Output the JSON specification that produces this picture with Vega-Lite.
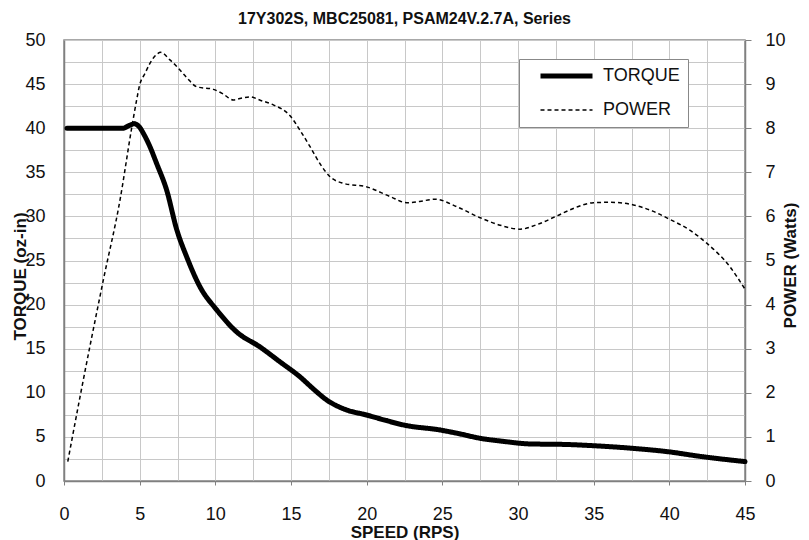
{
  "$schema": "https://vega.github.io/schema/vega-lite/v6.json",
  "width": 681,
  "height": 441,
  "autosize": {"type": "none"},
  "padding": {"left": 64, "top": 40, "right": 64, "bottom": 59},
  "title": {"text": "17Y302S, MBC25081, PSAM24V.2.7A, Series", "font": "Liberation Sans", "fontSize": 16, "fontWeight": "bold", "color": "#111111", "offset": 4},
  "config": {"view": {"stroke": "#8c8c8c", "strokeWidth": 1.5}, "font": "Liberation Sans"},
  "data": {"values": [
    {"series": "TORQUE", "speed": 0.2, "value": 40},
    {"series": "TORQUE", "speed": 1, "value": 40},
    {"series": "TORQUE", "speed": 2, "value": 40},
    {"series": "TORQUE", "speed": 3, "value": 40},
    {"series": "TORQUE", "speed": 3.9, "value": 40},
    {"series": "TORQUE", "speed": 4.3, "value": 40.3},
    {"series": "TORQUE", "speed": 4.65, "value": 40.5},
    {"series": "TORQUE", "speed": 5.0, "value": 40.1},
    {"series": "TORQUE", "speed": 5.25, "value": 39.4},
    {"series": "TORQUE", "speed": 5.68, "value": 37.9},
    {"series": "TORQUE", "speed": 6.12, "value": 36.0},
    {"series": "TORQUE", "speed": 6.78, "value": 33.0},
    {"series": "TORQUE", "speed": 7.45, "value": 28.5},
    {"series": "TORQUE", "speed": 8.11, "value": 25.4},
    {"series": "TORQUE", "speed": 8.99, "value": 22.0},
    {"series": "TORQUE", "speed": 10.09, "value": 19.4},
    {"series": "TORQUE", "speed": 11.41, "value": 16.9},
    {"series": "TORQUE", "speed": 12.95, "value": 15.2},
    {"series": "TORQUE", "speed": 14.28, "value": 13.5},
    {"series": "TORQUE", "speed": 15.6, "value": 11.8},
    {"series": "TORQUE", "speed": 16.5, "value": 10.4},
    {"series": "TORQUE", "speed": 17.36, "value": 9.18},
    {"series": "TORQUE", "speed": 18.68, "value": 8.05},
    {"series": "TORQUE", "speed": 20.0, "value": 7.48},
    {"series": "TORQUE", "speed": 21.2, "value": 6.9},
    {"series": "TORQUE", "speed": 22.43, "value": 6.35},
    {"series": "TORQUE", "speed": 24.85, "value": 5.78},
    {"series": "TORQUE", "speed": 26, "value": 5.4},
    {"series": "TORQUE", "speed": 27.5, "value": 4.84},
    {"series": "TORQUE", "speed": 29, "value": 4.5},
    {"series": "TORQUE", "speed": 30.8, "value": 4.2},
    {"series": "TORQUE", "speed": 33, "value": 4.15},
    {"series": "TORQUE", "speed": 35, "value": 4.0},
    {"series": "TORQUE", "speed": 37.6, "value": 3.7},
    {"series": "TORQUE", "speed": 40, "value": 3.3},
    {"series": "TORQUE", "speed": 42, "value": 2.8},
    {"series": "TORQUE", "speed": 45, "value": 2.2},
    {"series": "POWER", "speed": 0.25, "value": 0.44},
    {"series": "POWER", "speed": 1.06, "value": 1.91},
    {"series": "POWER", "speed": 2.6, "value": 4.56},
    {"series": "POWER", "speed": 3.7, "value": 6.37},
    {"series": "POWER", "speed": 4.47, "value": 8.0},
    {"series": "POWER", "speed": 4.8, "value": 8.64},
    {"series": "POWER", "speed": 5.0, "value": 8.98},
    {"series": "POWER", "speed": 5.35, "value": 9.24},
    {"series": "POWER", "speed": 5.68, "value": 9.47},
    {"series": "POWER", "speed": 6.0, "value": 9.63},
    {"series": "POWER", "speed": 6.4, "value": 9.72},
    {"series": "POWER", "speed": 7.0, "value": 9.55},
    {"series": "POWER", "speed": 7.45, "value": 9.4},
    {"series": "POWER", "speed": 8.1, "value": 9.15},
    {"series": "POWER", "speed": 8.77, "value": 8.94},
    {"series": "POWER", "speed": 9.87, "value": 8.88},
    {"series": "POWER", "speed": 10.5, "value": 8.78},
    {"series": "POWER", "speed": 11.19, "value": 8.64},
    {"series": "POWER", "speed": 11.7, "value": 8.68},
    {"series": "POWER", "speed": 12.29, "value": 8.71},
    {"series": "POWER", "speed": 13.0, "value": 8.63},
    {"series": "POWER", "speed": 13.83, "value": 8.53},
    {"series": "POWER", "speed": 14.94, "value": 8.28},
    {"series": "POWER", "speed": 15.6, "value": 7.95},
    {"series": "POWER", "speed": 16.26, "value": 7.58},
    {"series": "POWER", "speed": 17.0, "value": 7.15},
    {"series": "POWER", "speed": 17.58, "value": 6.9},
    {"series": "POWER", "speed": 18.46, "value": 6.75},
    {"series": "POWER", "speed": 20.0, "value": 6.67},
    {"series": "POWER", "speed": 21.55, "value": 6.45},
    {"series": "POWER", "speed": 22.65, "value": 6.31},
    {"series": "POWER", "speed": 23.5, "value": 6.34},
    {"series": "POWER", "speed": 24.52, "value": 6.39},
    {"series": "POWER", "speed": 25.95, "value": 6.22},
    {"series": "POWER", "speed": 27.5, "value": 5.97},
    {"series": "POWER", "speed": 28.82, "value": 5.8},
    {"series": "POWER", "speed": 30.14, "value": 5.71},
    {"series": "POWER", "speed": 31.3, "value": 5.82},
    {"series": "POWER", "speed": 32.56, "value": 6.01},
    {"series": "POWER", "speed": 33.8, "value": 6.2},
    {"series": "POWER", "speed": 34.98, "value": 6.31},
    {"series": "POWER", "speed": 36.09, "value": 6.32},
    {"series": "POWER", "speed": 37.63, "value": 6.26},
    {"series": "POWER", "speed": 38.9, "value": 6.12},
    {"series": "POWER", "speed": 40.05, "value": 5.93},
    {"series": "POWER", "speed": 41.3, "value": 5.7},
    {"series": "POWER", "speed": 42.48, "value": 5.39},
    {"series": "POWER", "speed": 44.0, "value": 4.86},
    {"series": "POWER", "speed": 45.0, "value": 4.35}
  ]},
  "encoding": {
    "x": {
      "field": "speed", "type": "quantitative",
      "scale": {"domain": [0, 45], "nice": false, "zero": false},
      "axis": {
        "values": [0, 2.5, 5, 7.5, 10, 12.5, 15, 17.5, 20, 22.5, 25, 27.5, 30, 32.5, 35, 37.5, 40, 42.5, 45],
        "labelExpr": "datum.value % 5 === 0 ? '' + datum.value : ''",
        "tickColor": {"condition": {"test": "datum.value % 5 === 0", "value": "#808080"}, "value": "transparent"},
        "tickSize": 4,
        "labelPadding": 20,
        "labelFont": "Liberation Sans",
        "labelFontSize": 18,
        "labelColor": "#111111",
        "labelFlush": false,
        "labelOverlap": false,
        "domainColor": "#808080",
        "domainWidth": 1.5,
        "grid": true,
        "gridColor": "#c8c8c8",
        "title": "SPEED (RPS)",
        "titleFont": "Liberation Sans",
        "titleFontSize": 17,
        "titleFontWeight": "bold",
        "titleColor": "#111111",
        "titleX": 340.5,
        "titleY": 56,
        "titleBaseline": "alphabetic"
      }
    },
    "strokeWidth": {
      "field": "series", "type": "ordinal",
      "scale": {"domain": ["TORQUE", "POWER"], "range": [5, 1.5]},
      "legend": {"orient": "none", "legendX": 455, "legendY": 19, "title": null, "symbolType": "M-26,0H26", "symbolSize": 4, "symbolStrokeColor": "#000000", "symbolFillColor": "transparent", "labelFont": "Liberation Sans", "labelFontSize": 18, "labelColor": "#111111", "fillColor": "white", "strokeColor": "#888888", "padding": 8, "rowPadding": 15, "symbolOffset": 30.5, "labelOffset": 27.5}
    },
    "strokeDash": {
      "field": "series", "type": "ordinal",
      "scale": {"domain": ["TORQUE", "POWER"], "range": [[1, 0], [4, 3]]},
      "legend": {"orient": "none", "legendX": 455, "legendY": 19, "title": null, "symbolType": "M-26,0H26", "symbolSize": 4, "symbolStrokeColor": "#000000", "symbolFillColor": "transparent", "labelFont": "Liberation Sans", "labelFontSize": 18, "labelColor": "#111111", "fillColor": "white", "strokeColor": "#888888", "padding": 8, "rowPadding": 15, "symbolOffset": 30.5, "labelOffset": 27.5}
    }
  },
  "layer": [
    {
      "transform": [{"filter": "datum.series === 'TORQUE'"}],
      "mark": {"type": "line", "interpolate": "monotone", "color": "#000000", "strokeJoin": "round", "strokeCap": "round"},
      "encoding": {
        "y": {
          "field": "value", "type": "quantitative",
          "scale": {"domain": [0, 50], "nice": false},
          "axis": {
            "orient": "left",
            "values": [0, 2.5, 5, 7.5, 10, 12.5, 15, 17.5, 20, 22.5, 25, 27.5, 30, 32.5, 35, 37.5, 40, 42.5, 45, 47.5, 50],
            "labelExpr": "datum.value % 5 === 0 ? '' + datum.value : ''",
            "tickSize": 0,
            "labelPadding": 19,
            "labelFont": "Liberation Sans",
            "labelFontSize": 18,
            "labelColor": "#111111",
            "labelFlush": false,
            "labelOverlap": false,
            "domainColor": "#808080",
            "domainWidth": 1.5,
            "grid": true,
            "gridColor": "#c8c8c8",
            "title": "TORQUE (oz-in)",
            "titleFont": "Liberation Sans",
            "titleFontSize": 17,
            "titleFontWeight": "bold",
            "titleColor": "#111111",
            "titleAngle": 270,
            "titleX": -39,
            "titleY": 236,
            "titleBaseline": "alphabetic"
          }
        }
      }
    },
    {
      "transform": [{"filter": "datum.series === 'POWER'"}],
      "mark": {"type": "line", "interpolate": "monotone", "color": "#000000"},
      "encoding": {
        "y": {
          "field": "value", "type": "quantitative",
          "scale": {"domain": [0, 10], "nice": false},
          "axis": {
            "orient": "right",
            "values": [0, 1, 2, 3, 4, 5, 6, 7, 8, 9, 10],
            "tickSize": 6,
            "tickColor": "#808080",
            "labelPadding": 14,
            "labelFont": "Liberation Sans",
            "labelFontSize": 18,
            "labelColor": "#111111",
            "labelFlush": false,
            "labelOverlap": false,
            "domainColor": "#808080",
            "domainWidth": 1.5,
            "grid": false,
            "title": "POWER (Watts)",
            "titleFont": "Liberation Sans",
            "titleFontSize": 17,
            "titleFontWeight": "bold",
            "titleColor": "#111111",
            "titleAngle": 270,
            "titleX": 50,
            "titleY": 225,
            "titleBaseline": "alphabetic"
          }
        }
      }
    }
  ],
  "resolve": {"scale": {"y": "independent"}}
}
